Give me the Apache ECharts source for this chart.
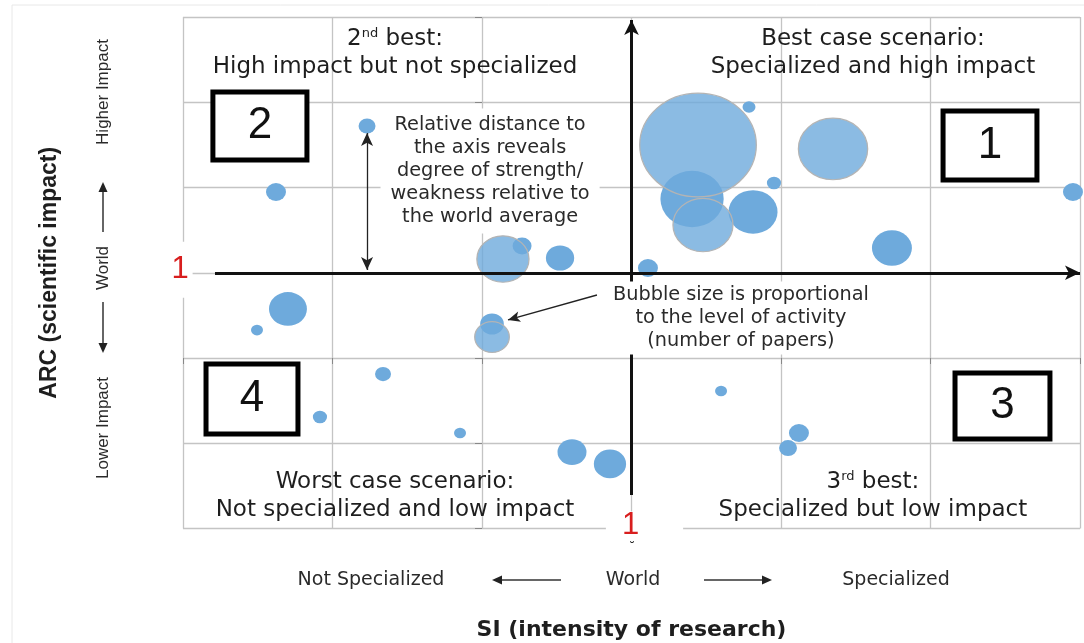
<!DOCTYPE html>
<html><head><meta charset="utf-8">
<script src="https://cdn.jsdelivr.net/npm/echarts@6/dist/echarts.min.js"></script>
<style>html,body{margin:0;padding:0;background:#fff}#c{width:1084px;height:643px}</style>
</head><body><div id="c"></div>
<script>
// ---- data (SI on x, ARC on y; world average = 1) ----
const solidSI     = [-0.769, -1.378, 0.268, 0.522, 1.110, 1.786, 1.953, 1.405, 1.813, 2.742, 3.953, -1.298, -1.505, 0.067, -0.662, -1.084, -0.147, 0.602, 0.856, 1.599, 2.120, 2.047];
const solidARC    = [2.721, 1.947, 1.314, 1.173, 1.056, 2.944, 2.053, 1.865, 1.713, 1.290, 1.947, 0.575, 0.328, 0.399, -0.188, -0.692, -0.880, -1.103, -1.243, -0.387, -0.880, -1.056];
const solidPapers = [72, 100, 90, 200, 100, 42, 50, 1000, 600, 400, 100, 360, 36, 140, 64, 50, 36, 210, 260, 36, 100, 80];
const lightSI     = [0.140, 1.445, 2.348, 1.478, 0.067];
const lightARC    = [1.161, 2.498, 2.452, 1.560, 0.246];
const lightPapers = [680, 3400, 1200, 900, 300];
const worldTick   = ['1'];
const quadrantTitles = [
  ['2|nd| best:', 'High impact but not specialized'],
  ['Best case scenario:', 'Specialized and high impact'],
  ['Worst case scenario:', 'Not specialized and low impact'],
  ['3|rd| best:', 'Specialized but low impact']
];
const boxNumbers = ['2', '1', '4', '3'];
const noteStrength = ['Relative distance to', 'the axis reveals', 'degree of strength/', 'weakness relative to', 'the world average'];
const noteSize = ['Bubble size is proportional', 'to the level of activity', '(number of papers)'];
const ySideLabels = ['Lower Impact', 'World', 'Higher Impact'];
const xSideLabels = ['Not Specialized', 'World', 'Specialized'];

// ---- build ----
const SANS = '"DejaVu Sans", sans-serif';
const ARIAL = '"Liberation Sans", Arial, sans-serif';
const zip = (a, b, c) => a.map((v, i) => [v, b[i], c[i]]);
const sizeFn = v => { const d = 2 * Math.sqrt(v[2]); return [d, d * 0.89]; };

function titleText(t) {
  const first = t[0].includes('|') ? t[0].split('|') : null;
  const l1 = first ? '{n|' + first[0] + '}{s|' + first[1] + '}{n|' + first[2] + '}' : '{n|' + t[0] + '}';
  return l1 + '\n{n|' + t[1] + '}';
}
const titleRich = {
  n: { fontFamily: SANS, fontSize: 23, color: '#1e1e1e', lineHeight: 28 },
  s: { fontFamily: SANS, fontSize: 13, color: '#1e1e1e', lineHeight: 28, verticalAlign: 'top', padding: [2, 0, 0, 0] }
};
const quadPos = [[-0.582, 3.578], [2.615, 3.578], [-0.582, -1.619], [2.615, -1.619]];
const boxPos = [
  [[-1.80, 3.12], [-1.171, 2.323]],
  [[3.084, 2.897], [3.712, 2.088]],
  [[-1.846, -0.070], [-1.231, -0.892]],
  [[3.164, -0.176], [3.799, -0.950]]
];

const notes = [];
quadrantTitles.forEach((t, i) => notes.push({
  value: quadPos[i],
  label: { show: true, position: 'inside', formatter: titleText(t), rich: titleRich, align: 'center' }
}));
notes.push({ value: [0.054, 2.195], label: { show: true, position: 'inside', formatter: noteStrength.join('\n'),
  fontFamily: SANS, fontSize: 19.3, lineHeight: 23, color: '#2a2a2a', align: 'center', backgroundColor: '#fff', padding: [5, 10] } });
notes.push({ value: [1.732, 0.470], label: { show: true, position: 'inside', formatter: noteSize.join('\n'),
  fontFamily: SANS, fontSize: 19.3, lineHeight: 23, color: '#2a2a2a', align: 'center', backgroundColor: '#fff', padding: [2, 6] } });
notes.push({ value: [-2, 1], label: { show: true, position: 'inside', formatter: worldTick[0], offset: [-3, -3],
  fontFamily: ARIAL, fontSize: 31, color: '#d81e1e', backgroundColor: '#fff', padding: [13, 4], lineHeight: 30 } });
notes.push({ value: [1, -2], label: { show: true, position: 'inside', formatter: worldTick[0], offset: [13, -3],
  fontFamily: ARIAL, fontSize: 31, color: '#d81e1e', backgroundColor: '#fff', padding: [0, 44, 0, 16], lineHeight: 28 } });

function arrow(x1, y1, x2, y2, w) {
  const a = Math.atan2(y2 - y1, x2 - x1), L = 10, W = 4.5;
  const bx = x2 - L * Math.cos(a), by = y2 - L * Math.sin(a);
  const px = -Math.sin(a) * W, py = Math.cos(a) * W;
  return [
    { type: 'line', shape: { x1, y1, x2: bx, y2: by }, style: { stroke: '#333', lineWidth: w } },
    { type: 'polygon', shape: { points: [[x2, y2], [bx + px, by + py], [bx - px, by - py]] }, style: { fill: '#222' } }
  ];
}
function txt(x, y, s, font, rot) {
  return { type: 'text', x, y, rotation: rot || 0,
    style: { text: s, font, fill: '#2a2a2a', align: 'center', verticalAlign: 'middle', textAlign: 'center', textVerticalAlign: 'middle' } };
}
const yFont = '17px "Liberation Sans", Arial, sans-serif';
const xFont = '19px "DejaVu Sans", sans-serif';
const graphics = [
  { type: 'rect', shape: { x: 12, y: 5, width: 1200, height: 800 }, style: { fill: 'none', stroke: '#e8e8e8', lineWidth: 1 }, silent: true },
  txt(103, 428, ySideLabels[0], yFont, Math.PI / 2),
  txt(103, 268, ySideLabels[1], yFont, Math.PI / 2),
  txt(103, 92, ySideLabels[2], yFont, Math.PI / 2),
  ...arrow(103, 232, 103, 182, 1.5),
  ...arrow(103, 302, 103, 353, 1.5),
  txt(371, 580, xSideLabels[0], xFont),
  txt(633, 580, xSideLabels[1], xFont),
  txt(896, 580, xSideLabels[2], xFont),
  ...arrow(561, 580, 492, 580, 1.5),
  ...arrow(704, 580, 772, 580, 1.5),
  txt(632, 548, '\u02D8', '13px "DejaVu Sans", sans-serif')
];

const chart = echarts.init(document.getElementById('c'));
chart.setOption({
  animation: false,
  backgroundColor: '#fff',
  grid: { left: 183, top: 17, width: 897, height: 511.5, containLabel: false, outerBoundsMode: 'none' },
  xAxis: {
    type: 'value', min: -2, max: 4, interval: 1,
    name: 'SI (intensity of research)', nameLocation: 'middle', nameGap: 91,
    nameTextStyle: { fontFamily: SANS, fontWeight: 'bold', fontSize: 22, color: '#1e1e1e' },
    axisLine: { show: false }, axisLabel: { show: false },
    axisTick: { show: true, length: 6, lineStyle: { color: '#888', width: 1 } },
    splitLine: { show: true, showMinLine: true, showMaxLine: true, lineStyle: { color: '#c4c4c4', width: 1.3 } }
  },
  yAxis: {
    type: 'value', min: -2, max: 4, interval: 1,
    name: 'ARC (scientific impact)', nameLocation: 'middle', nameGap: 122, nameRotate: 90,
    nameTextStyle: { fontFamily: ARIAL, fontWeight: 'bold', fontSize: 23, color: '#1e1e1e' },
    axisLine: { show: false }, axisLabel: { show: false },
    axisTick: { show: true, length: 7, lineStyle: { color: '#888', width: 1 } },
    splitLine: { show: true, showMinLine: true, showMaxLine: true, lineStyle: { color: '#c4c4c4', width: 1.3 } }
  },
  graphic: graphics,
  series: [
    {
      name: 'world axes', type: 'scatter', data: [], z: 2, silent: true,
      markLine: {
        silent: true, animation: false, symbolSize: [11, 15], label: { show: false },
        lineStyle: { color: '#111', width: 3, type: 'solid' },
        data: [
          [{ coord: [-1.786, 1], symbol: 'none' }, { coord: [4, 1], symbol: 'arrow' }],
          [{ coord: [1, -1.607], symbol: 'none' }, { coord: [1, 3.965], symbol: 'arrow' }],
          [{ coord: [-0.769, 2.639], symbol: 'arrow', symbolSize: [9, 13], lineStyle: { width: 1.3, color: '#222' } },
           { coord: [-0.769, 1.032], symbol: 'arrow', symbolSize: [9, 13], lineStyle: { width: 1.3, color: '#222' } }],
          [{ coord: [0.769, 0.739], symbol: 'none', lineStyle: { width: 1.3, color: '#222' } },
           { coord: [0.174, 0.446], symbol: 'arrow', symbolSize: [8, 12], lineStyle: { width: 1.3, color: '#222' } }]
        ]
      },
      markArea: {
        silent: true,
        itemStyle: { color: '#fff', borderColor: '#000', borderWidth: 5, opacity: 1 },
        label: { show: true, position: 'inside', formatter: '{b}', fontFamily: ARIAL, fontSize: 44, color: '#111' },
        data: boxPos.map((p, i) => [{ coord: p[0], name: boxNumbers[i] }, { coord: p[1] }])
      }
    },
    {
      name: 'papers', type: 'scatter', z: 3, data: zip(solidSI, solidARC, solidPapers),
      symbolSize: sizeFn, itemStyle: { color: '#6eaadc', opacity: 1 }
    },
    {
      name: 'papers (large)', type: 'scatter', z: 4, data: zip(lightSI, lightARC, lightPapers),
      symbolSize: sizeFn, itemStyle: { color: 'rgba(110,170,220,0.8)', opacity: 1, borderColor: '#b4b4b4', borderWidth: 1.2 }
    },
    {
      name: 'notes', type: 'scatter', z: 5, silent: true, symbolSize: 0, itemStyle: { opacity: 1 }, data: notes
    }
  ]
});
</script></body></html>
